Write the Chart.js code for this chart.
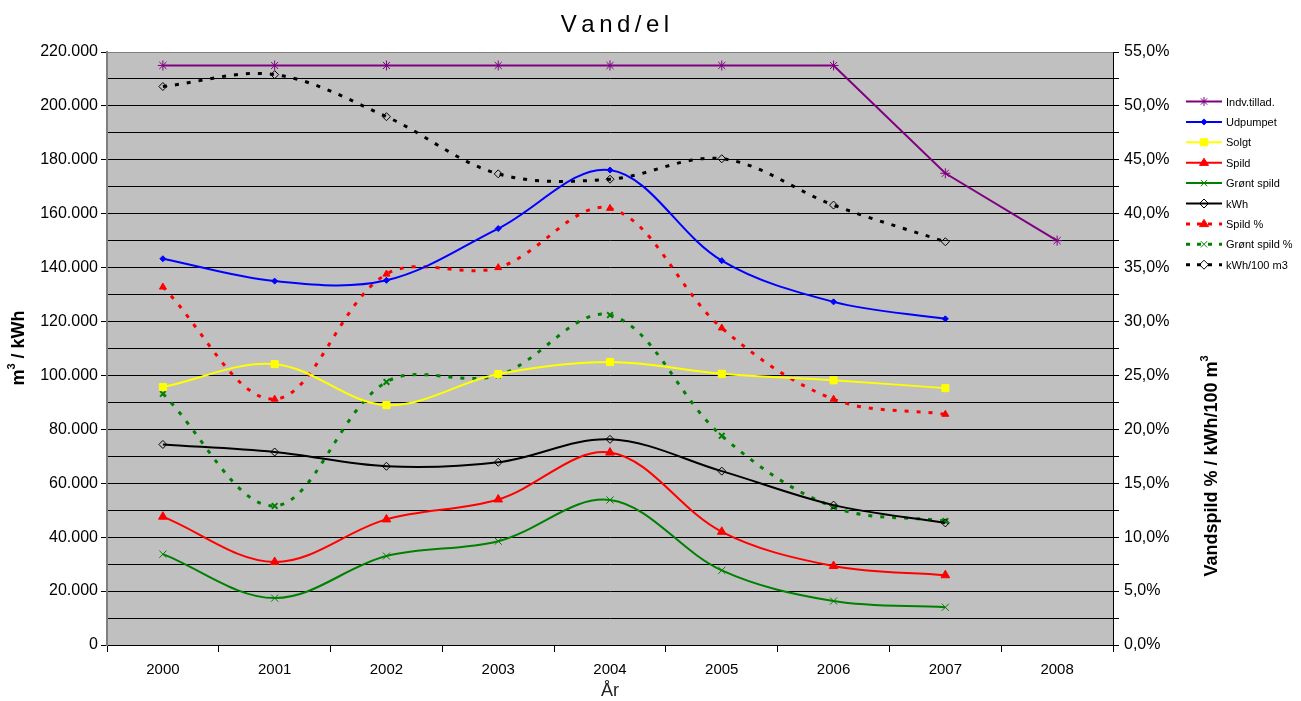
<!DOCTYPE html>
<html>
<head>
<meta charset="utf-8">
<title>Vand/el</title>
<script src="https://cdn.jsdelivr.net/npm/chart.js@4/dist/chart.umd.min.js"></script>
<style>
  html, body { margin: 0; padding: 0; background: #fff; }
  #wrap { width: 1301px; height: 701px; position: relative; }
</style>
</head>
<body>
<div id="wrap"><canvas id="vandChart"></canvas></div>
<script>
// chart data
const years = ['2000', '2001', '2002', '2003', '2004', '2005', '2006', '2007', '2008'];

// left axis (m3 / kWh)
const indvTillad = [215000, 215000, 215000, 215000, 215000, 215000, 215000, 175000, 150000];
const udpumpet = [143300, 135000, 135300, 154500, 176200, 142600, 127300, 121000, null];
const solgt = [95700, 104200, 89000, 100500, 105000, 100600, 98200, 95300, null];
const spild = [47600, 30800, 46600, 54000, 71400, 42000, 29300, 25900, null];
const grontSpild = [33700, 17400, 33000, 38500, 53800, 27700, 16300, 14000, null];
const kwh = [74400, 71600, 66300, 67800, 76300, 64500, 51900, 45300, null];

// right axis (percent / kWh per 100 m3)
const spildPct = [33.2, 22.8, 34.4, 35.0, 40.5, 29.4, 22.8, 21.4, null];
const grontSpildPct = [23.3, 12.9, 24.4, 25.0, 30.6, 19.4, 12.8, 11.5, null];
const kwhPer100 = [51.8, 52.9, 49.0, 43.7, 43.2, 45.1, 40.8, 37.4, null];

const leftTicks = { min: 0, max: 220000, step: 10000, labelStep: 20000 };
const rightTicks = { min: 0, max: 55, step: 2.5, labelStep: 5 };

const DASH = [4, 8];
const FONT = '"Liberation Sans", Arial, sans-serif';

function line(label, data, color, opts) {
  return Object.assign({
    label: label,
    data: data,
    borderColor: color,
    backgroundColor: color,
    pointBorderColor: color,
    pointBackgroundColor: color,
    borderWidth: 2,
    pointRadius: 4,
    pointBorderWidth: 1,
    tension: 0.35,
    yAxisID: 'y',
    spanGaps: false
  }, opts || {});
}

const datasets = [
  line('Indv.tillad.', indvTillad, '#800080', { pointStyle: 'star', pointRadius: 5, tension: 0 }),
  line('Udpumpet', udpumpet, '#0000ff', { pointStyle: 'rectRot', pointRadius: 3 }),
  line('Solgt', solgt, '#ffff00', { pointStyle: 'rect', pointRadius: 5 }),
  line('Spild', spild, '#ff0000', { pointStyle: 'triangle', pointRadius: 5 }),
  line('Grønt spild', grontSpild, '#008000', { pointStyle: 'crossRot', pointRadius: 5 }),
  line('kWh', kwh, '#000000', { pointStyle: 'rectRot', pointRadius: 4, pointBackgroundColor: 'rgba(0,0,0,0)' }),
  line('Spild %', spildPct, '#ff0000', { pointStyle: 'triangle', pointRadius: 4, borderDash: DASH, borderWidth: 3, yAxisID: 'y1' }),
  line('Grønt spild %', grontSpildPct, '#008000', { pointStyle: 'crossRot', pointRadius: 4, pointBorderWidth: 2, borderDash: DASH, borderWidth: 3, yAxisID: 'y1' }),
  line('kWh/100 m3', kwhPer100, '#000000', { pointStyle: 'rectRot', pointRadius: 4, pointBackgroundColor: 'rgba(0,0,0,0)', borderDash: DASH, borderWidth: 3, yAxisID: 'y1' })
];

// small marker drawer for the custom legend
function marker(ctx, style, x, y, r, color, fill) {
  ctx.save();
  ctx.strokeStyle = color;
  ctx.fillStyle = fill;
  ctx.lineWidth = 1;
  ctx.setLineDash([]);
  ctx.beginPath();
  if (style === 'star') {
    for (let a = 0; a < 4; a++) {
      const t = a * Math.PI / 4;
      ctx.moveTo(x - r * Math.cos(t), y - r * Math.sin(t));
      ctx.lineTo(x + r * Math.cos(t), y + r * Math.sin(t));
    }
    ctx.stroke();
  } else if (style === 'crossRot') {
    ctx.moveTo(x - r * 0.7, y - r * 0.7); ctx.lineTo(x + r * 0.7, y + r * 0.7);
    ctx.moveTo(x + r * 0.7, y - r * 0.7); ctx.lineTo(x - r * 0.7, y + r * 0.7);
    ctx.stroke();
  } else if (style === 'rectRot') {
    ctx.moveTo(x, y - r); ctx.lineTo(x + r, y); ctx.lineTo(x, y + r); ctx.lineTo(x - r, y); ctx.closePath();
    ctx.fill(); ctx.stroke();
  } else if (style === 'rect') {
    ctx.rect(x - r * 0.8, y - r * 0.8, r * 1.6, r * 1.6);
    ctx.fill(); ctx.stroke();
  } else if (style === 'triangle') {
    ctx.moveTo(x, y - r); ctx.lineTo(x + r, y + r * 0.6); ctx.lineTo(x - r, y + r * 0.6); ctx.closePath();
    ctx.fill(); ctx.stroke();
  }
  ctx.restore();
}

// rotated axis title with a small raised "3" after each "m"
function sideTitle(ctx, parts, cx, cy) {
  const big = 'bold 18px ' + FONT;
  const small = 'bold 11px ' + FONT;
  let w = 0;
  parts.forEach(p => { ctx.font = p.sup ? small : big; w += ctx.measureText(p.t).width; });
  ctx.save();
  ctx.translate(cx, cy);
  ctx.rotate(-Math.PI / 2);
  ctx.textAlign = 'left';
  ctx.textBaseline = 'middle';
  let x = -w / 2;
  parts.forEach(p => {
    ctx.font = p.sup ? small : big;
    ctx.fillText(p.t, x, p.sup ? -7 : 0);
    x += ctx.measureText(p.t).width;
  });
  ctx.restore();
}

const decor = {
  id: 'decor',
  beforeDraw(chart) {
    const { ctx, chartArea: a } = chart;
    ctx.save();
    ctx.fillStyle = '#c0c0c0';
    ctx.fillRect(a.left, a.top, a.right - a.left, a.bottom - a.top);
    ctx.restore();
  },
  afterDraw(chart) {
    const ctx = chart.ctx;
    ctx.save();
    // title with wide letter spacing
    ctx.fillStyle = '#000';
    ctx.font = '24px ' + FONT;
    ctx.textBaseline = 'middle';
    const title = 'Vand/el';
    const gap = 4.5;
    let w = 0;
    for (const ch of title) w += ctx.measureText(ch).width + gap;
    w -= gap;
    let x = 615 - w / 2;
    for (const ch of title) { ctx.fillText(ch, x, 25); x += ctx.measureText(ch).width + gap; }

    // axis titles
    sideTitle(ctx, [{ t: 'm' }, { t: '3', sup: true }, { t: ' / kWh' }], 19, 348);
    sideTitle(ctx, [{ t: 'Vandspild % / kWh/100 m' }, { t: '3', sup: true }], 1212, 466);

    // legend
    ctx.font = '11px ' + FONT;
    ctx.textAlign = 'left';
    ctx.textBaseline = 'middle';
    chart.data.datasets.forEach((ds, i) => {
      const y = 101.5 + i * 20.4;
      ctx.save();
      ctx.strokeStyle = ds.borderColor;
      ctx.lineWidth = ds.borderDash ? 3 : 2;
      ctx.setLineDash(ds.borderDash ? [4, 7] : []);
      ctx.beginPath();
      ctx.moveTo(1186, y); ctx.lineTo(1222, y);
      ctx.stroke();
      ctx.restore();
      marker(ctx, ds.pointStyle, 1204, y, ds.label === 'Udpumpet' ? 3 : 4.5,
        ds.borderColor, ds.pointBackgroundColor);
      ctx.fillStyle = '#000';
      ctx.fillText(ds.label, 1226, y + 1);
    });
    ctx.restore();
  }
};

function thousands(v) {
  if (v === 0) return '0';
  return Math.round(v / 1000) + '.000';
}

new Chart(document.getElementById('vandChart'), {
  type: 'line',
  data: { labels: years, datasets: datasets },
  options: {
    responsive: true,
    maintainAspectRatio: false,
    animation: false,
    layout: { padding: { top: 52, left: 0, right: 0, bottom: 0 } },
    plugins: { legend: { display: false }, tooltip: { enabled: false } },
    scales: {
      x: {
        type: 'category',
        offset: true,
        afterFit: s => { s.height = 56; },
        grid: { offset: true, drawOnChartArea: false, tickLength: 7, color: '#000' },
        border: { color: '#000', width: 1 },
        ticks: { color: '#000', font: { family: FONT, size: 15 }, padding: 9, maxRotation: 0 },
        title: { display: true, text: 'År', color: '#222', font: { family: FONT, size: 18 }, padding: { top: 0, bottom: -1 } }
      },
      y: {
        position: 'left',
        min: leftTicks.min,
        max: leftTicks.max,
        afterFit: s => { s.width = 107; },
        afterBuildTicks: s => {
          const t = [];
          for (let v = leftTicks.min; v <= leftTicks.max; v += leftTicks.step) t.push({ value: v });
          s.ticks = t;
        },
        grid: {
          color: c => (c.tick && c.tick.value === leftTicks.max ? '#808080' : '#000'),
          tickColor: c => (c.tick && c.tick.value % leftTicks.labelStep === 0 ? '#000' : 'rgba(0,0,0,0)'),
          tickLength: 6
        },
        border: { color: '#808080', width: 2 },
        ticks: {
          autoSkip: false,
          color: '#000',
          font: { family: FONT, size: 16 },
          padding: 3,
          callback: v => (v % leftTicks.labelStep === 0 ? thousands(v) : '')
        }
      },
      y1: {
        position: 'right',
        min: rightTicks.min,
        max: rightTicks.max,
        afterFit: s => { s.width = 188; },
        afterBuildTicks: s => {
          const t = [];
          for (let v = rightTicks.min; v <= rightTicks.max + 0.001; v += rightTicks.step) t.push({ value: v });
          s.ticks = t;
        },
        grid: { drawOnChartArea: false, tickLength: 6, color: '#000' },
        border: { color: '#000', width: 1 },
        ticks: {
          autoSkip: false,
          color: '#000',
          font: { family: FONT, size: 16 },
          padding: 5,
          callback: v => (Math.abs(v % rightTicks.labelStep) < 0.001 ? v.toFixed(1).replace('.', ',') + '%' : '')
        }
      }
    }
  },
  plugins: [decor]
});
</script>
</body>
</html>
